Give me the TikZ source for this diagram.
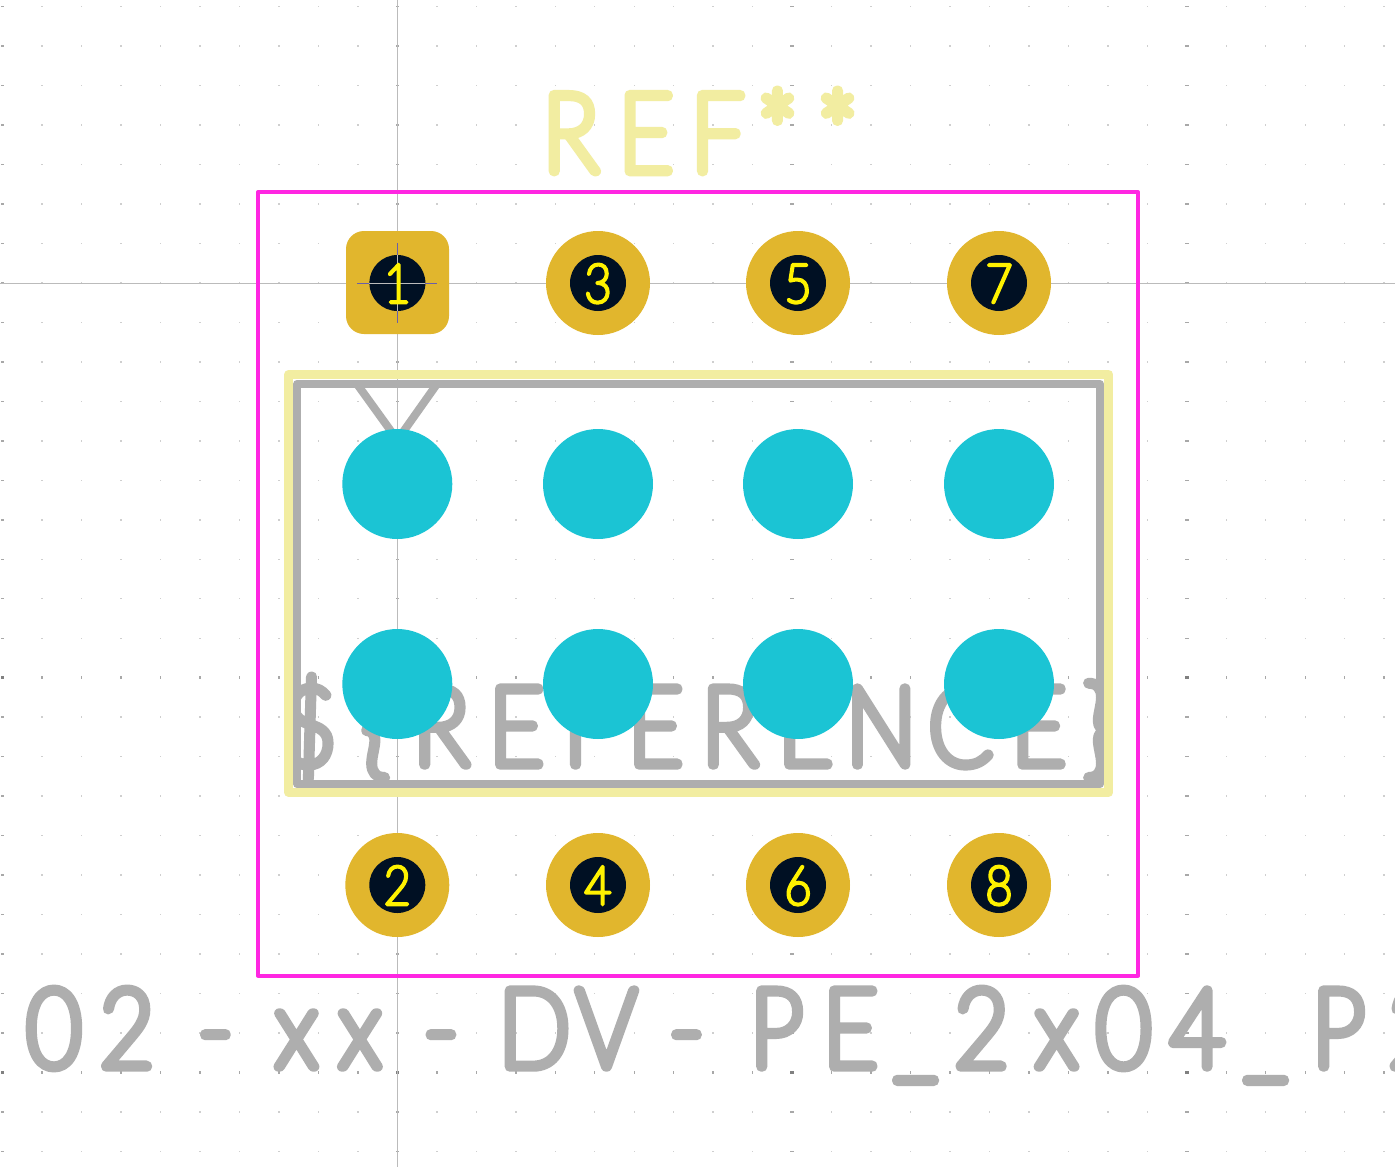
\documentclass[tikz,border=0pt]{standalone}
\usepackage{fontspec}
\newfontfamily\kfont[FakeStretch=0.86]{Lato Hairline}
\newfontfamily\nfont[FakeStretch=0.86]{Lato Hairline}
\definecolor{silk}{HTML}{F2EDA1}
\definecolor{fab}{HTML}{AEAEAE}
\definecolor{court}{HTML}{FF26E2}
\definecolor{padc}{HTML}{E1B62D}
\definecolor{holec}{HTML}{001023}
\definecolor{cyanc}{HTML}{1BC4D4}
\definecolor{axisc}{HTML}{BBBBBB}
\definecolor{crossc}{HTML}{6A5FA8}
\definecolor{dotc}{HTML}{CFCFCF}
\definecolor{majc}{HTML}{A8A8A8}
\newcommand{\kc}[2]{\rlap{\kern#1pt\clap{#2}}}
\newcommand{\strokeon}[1]{\special{pdf:code 2 Tr #1 w 1 j 1 J}}
\newcommand{\strokeoff}{\special{pdf:code 0 Tr}}
\tikzset{
  x=1pt,y=-1pt,
  bigtext/.style={anchor=base west,inner sep=0pt,outer sep=0pt,font=\kfont\fontsize{109}{109}\selectfont},
  padnum/.style={inner sep=0pt,outer sep=0pt,text=yellow,font=\nfont\fontsize{54}{54}\selectfont},
  roundpad/.style={circle,fill=padc,minimum size=104pt,inner sep=0pt,outer sep=0pt},
  hole/.style={circle,fill=holec,minimum size=56pt,inner sep=0pt,outer sep=0pt},
  via/.style={circle,fill=cyanc,minimum size=110pt,inner sep=0pt,outer sep=0pt},
  axisline/.style={draw=axisc,line width=1pt},
}
\begin{document}
\begin{tikzpicture}
\clip (0,0) rectangle (1395,1167);
\fill[white] (0,0) rectangle (1395,1167);
% grid
\foreach \i in {-10,...,25}{\foreach \j in {-7,...,22}{
  \fill[dotc] ({397.4+\i*39.47-0.7},{283+\j*39.47-0.7}) rectangle +(1.4,1.4);}}
\foreach \i in {-10,0,10,20}{\foreach \j in {-7,...,22}{
  \fill[majc] ({397.4+\i*39.47-1.7},{283+\j*39.47-0.7}) rectangle +(3.4,1.4);}}
\foreach \i in {-10,...,25}{\foreach \j in {10,20}{
  \fill[majc] ({397.4+\i*39.47-0.7},{283+\j*39.47-1.7}) rectangle +(1.4,3.4);}}
\foreach \i in {-10,0,10,20}{\foreach \j in {10,20}{
  \fill[gray] ({397.4+\i*39.47-1.7},{283+\j*39.47-1.7}) rectangle +(3.4,3.4);}}
% axes
\coordinate (axT) at (397.5,0); \coordinate (axB) at (397.5,1167);
\coordinate (axL) at (0,283); \coordinate (axR) at (1395,283);
\draw[axisline] (axT) -- (axB);
\draw[axisline] (axL) -- (axR);
% large gray texts
\node[bigtext,text=fab] (valtext) at (0,1066.7) {\strokeon{10}\kc{-35}{-}\kc{53.5}{0}\kc{126.5}{2}\kc{215}{-}\kc{296}{x}\kc{359.5}{x}\kc{440.5}{-}\kc{534}{D}\kc{606}{V}\kc{686}{-}\kc{776}{P}\kc{850}{E}\kc{915}{\_}\kc{981}{2}\kc{1056}{x}\kc{1123}{0}\kc{1197}{4}\kc{1265}{\_}\kc{1338}{P}\kc{1415}{2}\strokeoff};
\node[bigtext,text=fab] (fabref) at (0,764.7) {\strokeon{10}\kc{309}{\$}\kc{375}{\{}\kc{440.5}{R}\kc{516}{E}\kc{590}{F}\kc{655}{E}\kc{729}{R}\kc{805}{E}\kc{880.5}{N}\kc{960}{C}\kc{1038}{E}\kc{1097}{\}}\strokeoff};
% courtyard
\draw[court,line width=4pt,line join=round] (258,192) rectangle (1138,975.5);
% silkscreen
\draw[silk,line width=9.3pt,line join=round] (288.7,374.7) rectangle (1108.7,792.2);
\node[bigtext,text=silk] (reftext) at (0,171.3) {\strokeon{10}\kc{570}{R}\kc{645.5}{E}\kc{717}{F}\kc{777}{*}\kc{837}{*}\strokeoff};
% fab
\draw[fab,line width=8pt,line join=round] (297.2,384) rectangle (1100,784);
\coordinate (vA) at (357,384); \coordinate (vB) at (397.4,440); \coordinate (vC) at (437,384);
\draw[fab,line width=8pt] (vA) -- (vB) -- (vC);
% vias
\foreach \n/\x/\y in {a/397.3/484,b/598/484,c/798/484,d/999/484,e/397.3/684,f/598/684,g/798/684,h/999/684}
  \node[via] (via\n) at (\x,\y) {};
% pads
\fill[padc,rounded corners=18pt] (346,231) rectangle (449,334);
\node[hole] (hole1) at (397.4,283) {};
\draw[crossc,line width=1pt] (357,283) -- (437,283);
\draw[crossc,line width=1pt] (397.4,243) -- (397.4,323);
\draw[axisc,line width=1pt] (369.4,283) -- (425.4,283);
\draw[axisc,line width=1pt] (397.4,255) -- (397.4,311);
\foreach \n/\x/\y in {3/598/283,5/798/283,7/999/283,2/397.3/885,4/598/885,6/798/885,8/999/885}{
  \node[roundpad] (pad\n) at (\x,\y) {};
  \node[hole] (hole\n) at (\x,\y) {};
}
\foreach \n/\x/\y in {1/397.4/283,3/598/283,5/798/283,7/999/283,2/397.3/885,4/598/885,6/798/885,8/999/885}
  \node[padnum,anchor=base] (num\n) at (\x,{\y+19.5}) {\strokeon{3.5}\n\strokeoff};
\end{tikzpicture}
\end{document}
